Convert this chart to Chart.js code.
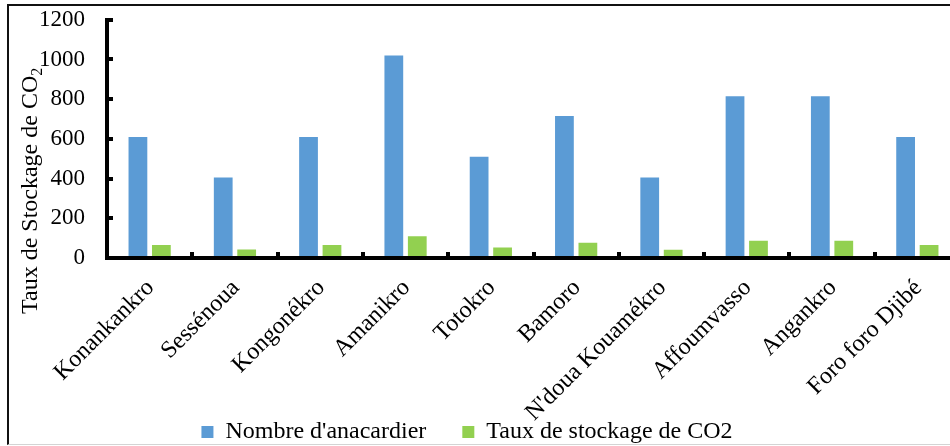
<!DOCTYPE html>
<html>
<head>
    <meta charset="utf-8">
    <title>Nombre d'anacardier et taux de stockage de CO2</title>
    <script src="https://cdn.jsdelivr.net/npm/chart.js"></script>
    <style>
        html, body {
            margin: 0;
            padding: 0;
            overflow: hidden;
            background: #fff;
        }
        #wrap {
            position: relative;
            width: 950px;
            height: 446px;
            overflow: hidden;
        }
        #chart {
            position: absolute;
            left: 0;
            top: -22px;
        }
        #frame {
            position: absolute;
            left: 7px;
            top: 4px;
            width: 1000px;
            height: 438px;
            border-left: 2px solid #111;
            border-top: 2px solid #111;
            border-bottom: 1px solid #d4d4d4;
            pointer-events: none;
        }
    </style>
</head>
<body>
    <div id="wrap">
        <canvas id="chart" width="962" height="480"></canvas>
        <div id="frame"></div>
    </div>

    <script>
        // Data
        const villages = ['Konankankro', 'Sessénoua', 'Kongonékro', 'Amanikro', 'Totokro', 'Bamoro',
                          "N'doua Kouamékro", 'Affoumvasso', 'Angankro', 'Foro foro Djibé'];
        const nombreAnacardier = [610, 405, 610, 1020, 510, 715, 405, 815, 815, 610];
        const tauxStockage = [65, 43, 65, 109, 53, 77, 42, 87, 87, 65];
        const yTicks = [0, 200, 400, 600, 800, 1000, 1200];
        const yTitle = 'Taux de Stockage de CO';
        const yTitleSub = '2';

        const serif = '"Liberation Serif", "Times New Roman", serif';

        // y axis title with a subscript, drawn by hand
        const yTitlePlugin = {
            id: 'yTitle',
            afterDraw(chart) {
                const ctx = chart.ctx;
                ctx.save();
                ctx.translate(37, 336);
                ctx.rotate(-Math.PI / 2);
                ctx.fillStyle = '#000';
                ctx.textAlign = 'left';
                ctx.textBaseline = 'alphabetic';
                ctx.font = '24px ' + serif;
                ctx.fillText(yTitle, 0, 0);
                const w = ctx.measureText(yTitle).width;
                ctx.font = '16px ' + serif;
                ctx.fillText(yTitleSub, w, 5);
                ctx.restore();
            }
        };

        // legend sits a bit left of the canvas centre
        const legendShift = {
            id: 'legendShift',
            afterLayout(chart) {
                chart.legend.left -= 17;
                chart.legend.right -= 17;
            }
        };

        new Chart(document.getElementById('chart').getContext('2d'), {
            type: 'bar',
            data: {
                labels: villages,
                datasets: [
                    { label: "Nombre d'anacardier", data: nombreAnacardier, backgroundColor: '#5B9BD5', borderWidth: 0 },
                    { label: 'Taux de stockage de CO2', data: tauxStockage, backgroundColor: '#92D050', borderWidth: 0 }
                ]
            },
            options: {
                responsive: false,
                animation: false,
                datasets: { bar: { categoryPercentage: 0.55, barPercentage: 0.8 } },
                layout: { padding: { left: 8, right: 2, top: 19, bottom: 4 } },
                plugins: {
                    legend: {
                        position: 'bottom',
                        labels: {
                            font: { family: serif, size: 24 },
                            color: '#000',
                            boxWidth: 12,
                            boxHeight: 12,
                            padding: 36
                        }
                    },
                    tooltip: { enabled: false }
                },
                scales: {
                    x: {
                        grid: { drawOnChartArea: false, color: '#000', lineWidth: 4, tickLength: -6 },
                        border: { color: '#000', width: 4 },
                        ticks: {
                            font: { family: serif, size: 24 },
                            color: '#000',
                            minRotation: 45,
                            maxRotation: 45,
                            autoSkip: false,
                            padding: 22,
                            labelOffset: 1
                        },
                        afterFit(scale) {
                            scale.height = 126;
                            // long rotated names run below the axis box
                            scale._computeLabelArea = () => undefined;
                        }
                    },
                    y: {
                        min: 0,
                        max: 1200,
                        afterBuildTicks(scale) { scale.ticks = yTicks.map(v => ({ value: v })); },
                        grid: { drawOnChartArea: false, color: '#000', lineWidth: 4, tickLength: -6 },
                        border: { color: '#000', width: 4 },
                        ticks: {
                            font: { family: serif, size: 23 },
                            color: '#000',
                            padding: 28,
                            callback: v => String(v)
                        },
                        afterFit(scale) { scale.width = 99; }
                    }
                }
            },
            plugins: [yTitlePlugin, legendShift]
        });
    </script>
</body>
</html>
